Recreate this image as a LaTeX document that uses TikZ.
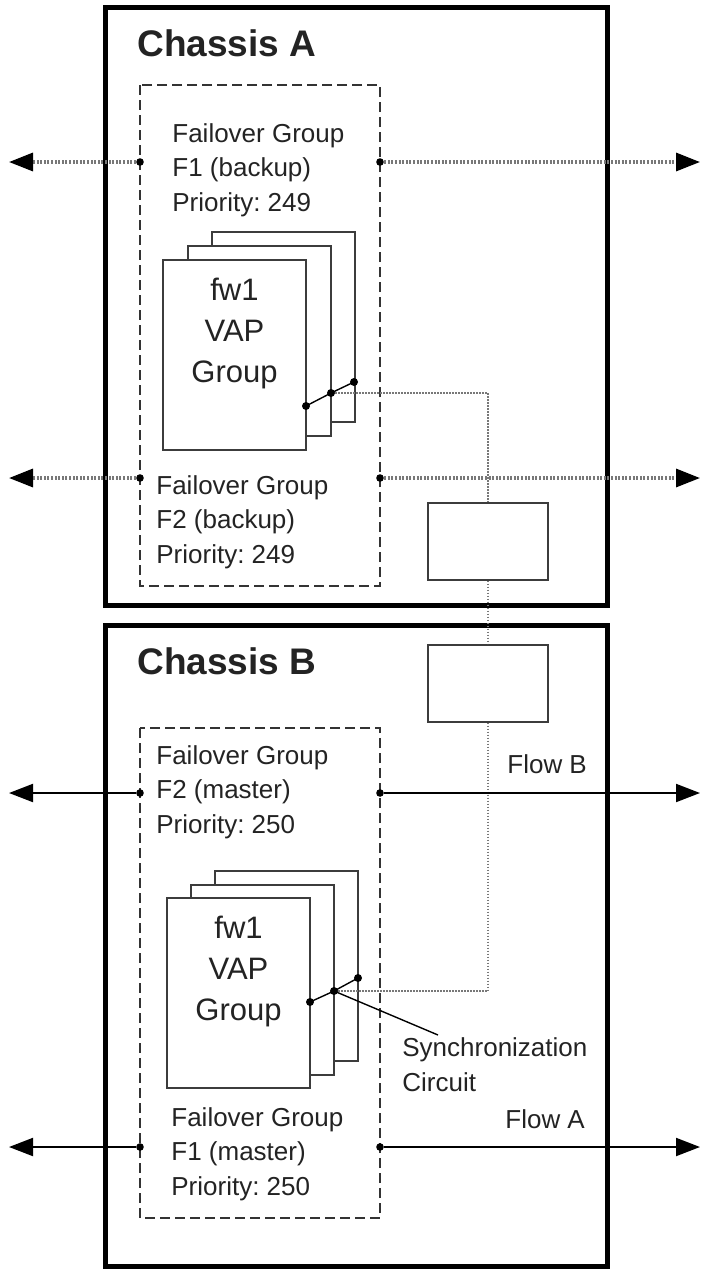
\documentclass[tikz,border=0pt]{standalone}
\usepackage{fontspec}
\setmainfont{Liberation Sans}
\usetikzlibrary{arrows.meta, positioning}
\definecolor{linegray}{RGB}{60,60,60}
\definecolor{dotgray}{RGB}{120,120,120}
\definecolor{textgray}{RGB}{35,35,35}
\frenchspacing

\begin{document}
\begin{tikzpicture}[x=0.5pt, y=-0.5pt,
  chassis/.style={draw=black, line width=2.5pt},
  fogroup/.style={draw=black!80, line width=0.9pt, dash pattern=on 5pt off 2.5pt},
  vap/.style={draw=linegray, line width=1pt, fill=white, inner sep=0pt, outer sep=0pt, minimum width=71.5pt, minimum height=95pt, anchor=north west},
  relay/.style={draw=linegray, line width=1pt, inner sep=0pt, minimum width=60pt, minimum height=38.5pt},
  chtitle/.style={font=\fontsize{18.5}{22}\selectfont\bfseries, text=textgray, anchor=base west, inner sep=0pt},
  grptext/.style={font=\fontsize{13}{17.25}\selectfont, text=textgray, align=left, anchor=base west, inner sep=0pt},
  vaptext/.style={font=\fontsize{15.5}{20.5}\selectfont, text=textgray, align=center, anchor=base, inner sep=0pt},
  portdot/.style={circle, fill=black, inner sep=0pt, minimum size=3.8pt},
  syncdot/.style={circle, fill=black, inner sep=0pt, minimum size=4pt},
  flowbk/.style={dotgray, line width=1.6pt, dash pattern=on 1pt off 0.8pt, -{Triangle[length=12pt, width=9pt, color=black]}},
  flowmst/.style={black, line width=1pt, -{Triangle[length=12pt, width=9pt]}},
  syncline/.style={dotgray, line width=0.7pt, dash pattern=on 0.6pt off 0.9pt}
]
  \useasboundingbox (0,0) rectangle (701,1270);

  % chassis frames
  \draw[chassis] (105,7) rectangle (607,605);
  \draw[chassis] (105,625) rectangle (607,1266);
  \node[chtitle] (titleA) at (137,56) {Chassis A};
  \node[chtitle] (titleB) at (137,674) {Chassis B};

  % failover groups (base = last line)
  \draw[fogroup] (140,85) rectangle (380,586);
  \draw[fogroup] (140,728) rectangle (380,1218);

  \node[grptext] (grpF1b) at (172,211) {Failover Group\\F1 (backup)\\Priority: 249};
  \node[grptext] (grpF2b) at (156,563) {Failover Group\\F2 (backup)\\Priority: 249};
  \node[grptext] (grpF2m) at (156,833) {Failover Group\\F2 (master)\\Priority: 250};
  \node[grptext] (grpF1m) at (171,1195) {Failover Group\\F1 (master)\\Priority: 250};

  % VAP group, chassis A
  \node[vap] (pA3) at (212,232) {};
  \node[vap] (pA2) at (188,246) {};
  \node[vap] (pA1) at (163,260) {};
  \node[vaptext] (vapA) at (234.5,382) {fw1\\VAP\\Group};

  % VAP group, chassis B
  \node[vap] (pB3) at (215,871) {};
  \node[vap] (pB2) at (191,885) {};
  \node[vap] (pB1) at (167,898) {};
  \node[vaptext] (vapB) at (238.5,1020) {fw1\\VAP\\Group};

  % synchronization circuit
  \node[syncdot] (sA1) at (306,406) {};
  \node[syncdot] (sA2) at (331,393) {};
  \node[syncdot] (sA3) at (354,382) {};
  \draw[line width=0.7pt] (sA1.center) -- (sA2.center) -- (sA3.center);
  \node[syncdot] (sB1) at (310,1002) {};
  \node[syncdot] (sB2) at (334,991) {};
  \node[syncdot] (sB3) at (358,978) {};
  \draw[line width=0.7pt] (sB1.center) -- (sB2.center) -- (sB3.center);

  \node[relay] (relA) at (488,541) {};
  \node[relay] (relB) at (488,683) {};
  \draw[syncline] (sA2) -| (relA.north);
  \draw[syncline] (relA.south) -- (relB.north);
  \draw[syncline] (relB.south) |- (sB2);

  \coordinate (leadend) at (438,1035);
  \draw[line width=0.7pt] (sB2.center) -- (leadend);
  \node[grptext] (syncLbl) at (402,1091) {Synchronization\\Circuit};

  % flows
  \foreach \nm/\yy in {A1/162, A2/478, B2/793, B1/1147} {
    \node[portdot] (in\nm) at (140,\yy) {};
    \node[portdot] (out\nm) at (380,\yy) {};
    \coordinate (tipL\nm) at (9,\yy);
    \coordinate (tipR\nm) at (700,\yy);
  }
  \draw[flowbk] (inA1) -- (tipLA1);
  \draw[flowbk] (outA1) -- (tipRA1);
  \draw[flowbk] (inA2) -- (tipLA2);
  \draw[flowbk] (outA2) -- (tipRA2);
  \draw[flowmst] (inB2) -- (tipLB2);
  \draw[flowmst] (outB2) -- (tipRB2);
  \draw[flowmst] (inB1) -- (tipLB1);
  \draw[flowmst] (outB1) -- (tipRB1);

  \node[grptext] (flowBLbl) at (507,773) {Flow B};
  \node[grptext] (flowALbl) at (505,1128) {Flow A};
\end{tikzpicture}
\end{document}
